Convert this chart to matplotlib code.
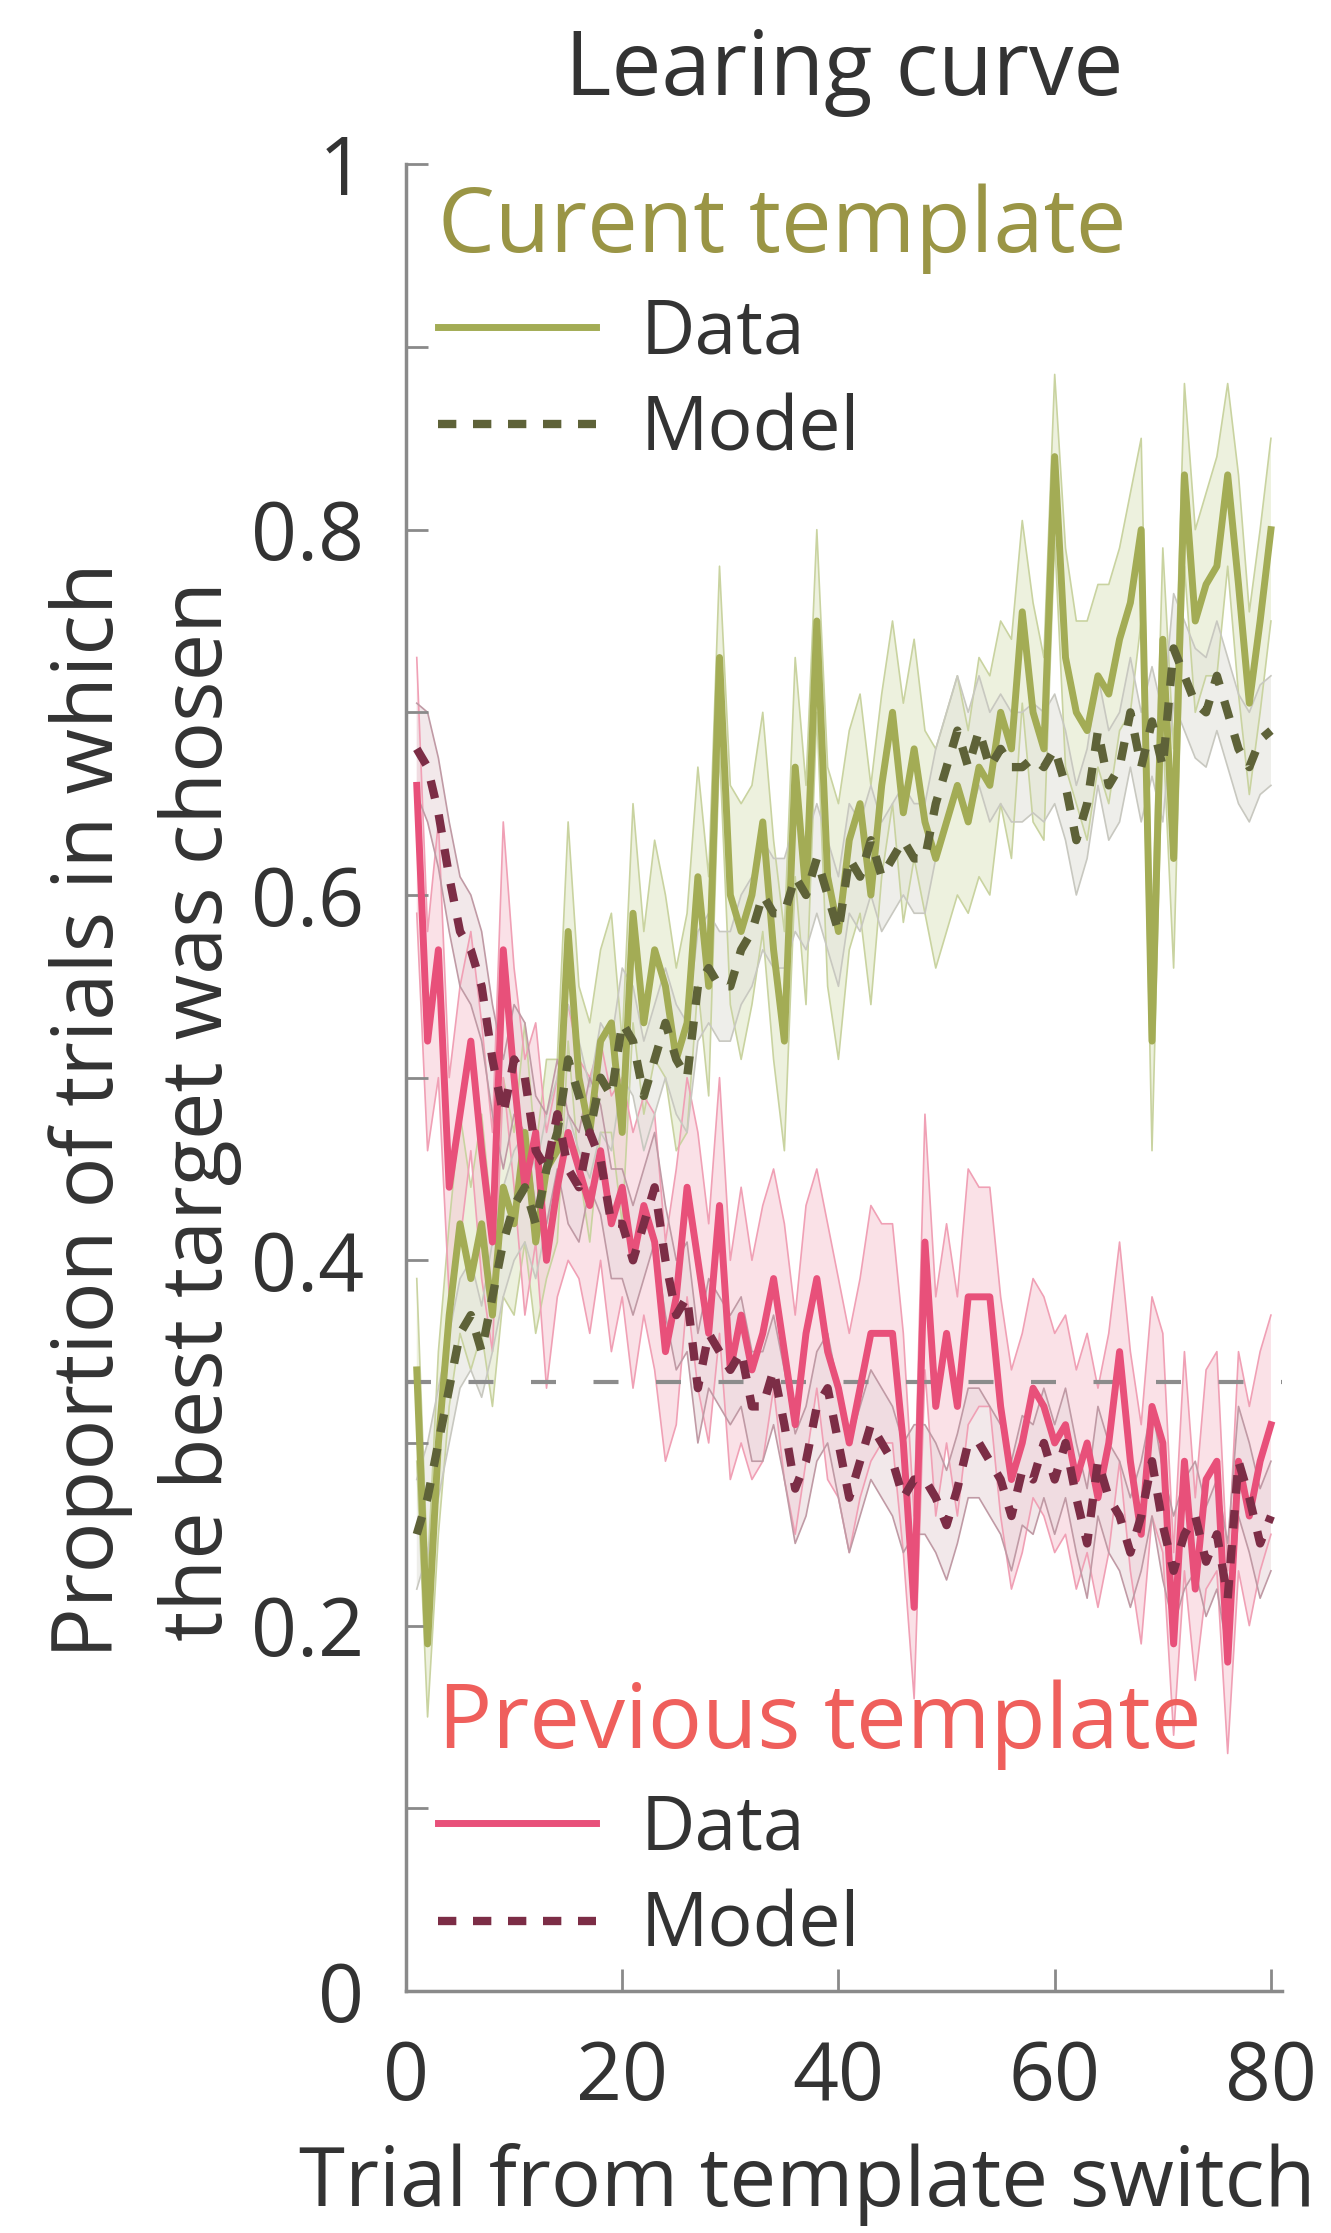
import matplotlib
matplotlib.use("Agg")
import matplotlib.pyplot as plt
from matplotlib.lines import Line2D
import numpy as np

plt.rcParams['font.family'] = ['Open Sans', 'DejaVu Sans']

trials = list(range(1, 81))

cur_data = [0.34, 0.19, 0.30, 0.37, 0.42, 0.39, 0.42, 0.37, 0.44, 0.42,
            0.47, 0.41, 0.45, 0.46, 0.58, 0.50, 0.47, 0.52, 0.53, 0.47,
            0.59, 0.53, 0.57, 0.55, 0.51, 0.53, 0.61, 0.55, 0.73, 0.60,
            0.58, 0.60, 0.64, 0.57, 0.52, 0.67, 0.60, 0.75, 0.61, 0.58,
            0.63, 0.65, 0.60, 0.66, 0.70, 0.645, 0.68, 0.64, 0.62, 0.64,
            0.66, 0.64, 0.67, 0.66, 0.70, 0.68, 0.755, 0.70, 0.68, 0.84,
            0.73, 0.70, 0.69, 0.72, 0.71, 0.74, 0.76, 0.80, 0.52, 0.74,
            0.62, 0.83, 0.75, 0.77, 0.78, 0.83, 0.77, 0.705, 0.75, 0.80]
cur_data_sem = [0.05, 0.04, 0.05, 0.05, 0.06, 0.05, 0.06, 0.05, 0.06, 0.05,
                0.06, 0.05, 0.06, 0.05, 0.06, 0.05, 0.06, 0.05, 0.06, 0.05,
                0.06, 0.05, 0.06, 0.05, 0.05, 0.06, 0.06, 0.06, 0.05, 0.06,
                0.07, 0.06, 0.06, 0.06, 0.06, 0.06, 0.06, 0.05, 0.06, 0.07,
                0.06, 0.06, 0.06, 0.05, 0.05, 0.06, 0.06, 0.05, 0.06, 0.06,
                0.06, 0.05, 0.06, 0.06, 0.05, 0.06, 0.05, 0.06, 0.05, 0.045,
                0.06, 0.05, 0.06, 0.05, 0.06, 0.05, 0.06, 0.05, 0.06, 0.05,
                0.06, 0.05, 0.05, 0.05, 0.06, 0.05, 0.06, 0.05, 0.05, 0.05]

cur_model = [0.25, 0.27, 0.30, 0.33, 0.36, 0.37, 0.35, 0.38, 0.41, 0.43,
             0.44, 0.42, 0.45, 0.47, 0.51, 0.49, 0.47, 0.50, 0.49, 0.53,
             0.52, 0.49, 0.51, 0.53, 0.51, 0.50, 0.55, 0.56, 0.55, 0.55,
             0.57, 0.58, 0.60, 0.59, 0.59, 0.61, 0.60, 0.62, 0.60, 0.58,
             0.62, 0.61, 0.63, 0.61, 0.62, 0.63, 0.62, 0.62, 0.65, 0.67,
             0.69, 0.67, 0.69, 0.67, 0.68, 0.67, 0.67, 0.675, 0.67, 0.68,
             0.66, 0.63, 0.65, 0.69, 0.66, 0.67, 0.70, 0.67, 0.695, 0.67,
             0.735, 0.72, 0.705, 0.70, 0.72, 0.70, 0.68, 0.67, 0.685, 0.69]
cur_model_sem = [0.03, 0.03, 0.03, 0.03, 0.03, 0.03, 0.025, 0.03, 0.03, 0.03,
                 0.03, 0.03, 0.03, 0.03, 0.03, 0.03, 0.025, 0.03, 0.03, 0.03,
                 0.03, 0.03, 0.03, 0.03, 0.03, 0.03, 0.03, 0.03, 0.03, 0.03,
                 0.03, 0.03, 0.03, 0.03, 0.03, 0.03, 0.03, 0.03, 0.03, 0.03,
                 0.03, 0.03, 0.03, 0.03, 0.03, 0.03, 0.03, 0.03, 0.03, 0.03,
                 0.03, 0.03, 0.03, 0.03, 0.03, 0.03, 0.03, 0.03, 0.03, 0.03,
                 0.03, 0.03, 0.03, 0.03, 0.03, 0.03, 0.03, 0.03, 0.03, 0.03,
                 0.03, 0.03, 0.03, 0.03, 0.03, 0.03, 0.03, 0.03, 0.03, 0.03]

prev_data = [0.66, 0.52, 0.57, 0.44, 0.48, 0.52, 0.46, 0.41, 0.57, 0.50,
             0.44, 0.47, 0.40, 0.44, 0.47, 0.45, 0.43, 0.46, 0.42, 0.44,
             0.40, 0.43, 0.41, 0.35, 0.38, 0.44, 0.40, 0.36, 0.43, 0.34,
             0.37, 0.34, 0.36, 0.39, 0.35, 0.31, 0.36, 0.39, 0.35, 0.33,
             0.30, 0.33, 0.36, 0.36, 0.36, 0.30, 0.21, 0.41, 0.32, 0.36,
             0.32, 0.38, 0.38, 0.38, 0.32, 0.28, 0.30, 0.33, 0.32, 0.30,
             0.31, 0.28, 0.30, 0.27, 0.30, 0.35, 0.29, 0.25, 0.32, 0.30,
             0.19, 0.29, 0.22, 0.28, 0.29, 0.18, 0.29, 0.26, 0.29, 0.31]
prev_data_sem = [0.07, 0.06, 0.07, 0.06, 0.07, 0.06, 0.07, 0.06, 0.07, 0.06,
                 0.07, 0.06, 0.07, 0.06, 0.07, 0.06, 0.07, 0.06, 0.07, 0.06,
                 0.07, 0.06, 0.07, 0.06, 0.07, 0.06, 0.07, 0.06, 0.07, 0.06,
                 0.07, 0.06, 0.07, 0.06, 0.07, 0.06, 0.07, 0.06, 0.07, 0.06,
                 0.06, 0.06, 0.07, 0.06, 0.06, 0.06, 0.05, 0.07, 0.06, 0.06,
                 0.06, 0.07, 0.06, 0.06, 0.06, 0.06, 0.06, 0.06, 0.06, 0.06,
                 0.06, 0.06, 0.06, 0.06, 0.06, 0.06, 0.06, 0.06, 0.06, 0.06,
                 0.05, 0.06, 0.05, 0.06, 0.06, 0.05, 0.06, 0.06, 0.06, 0.06]

prev_model = [0.68, 0.67, 0.645, 0.61, 0.58, 0.57, 0.55, 0.51, 0.48, 0.51,
              0.50, 0.46, 0.45, 0.48, 0.45, 0.44, 0.47, 0.455, 0.42, 0.42,
              0.40, 0.42, 0.44, 0.40, 0.37, 0.38, 0.33, 0.36, 0.35, 0.34,
              0.35, 0.32, 0.32, 0.34, 0.31, 0.275, 0.29, 0.32, 0.33, 0.30,
              0.27, 0.29, 0.31, 0.30, 0.29, 0.27, 0.28, 0.28, 0.27, 0.255,
              0.275, 0.30, 0.30, 0.29, 0.28, 0.26, 0.285, 0.28, 0.30, 0.28,
              0.30, 0.27, 0.245, 0.29, 0.27, 0.26, 0.24, 0.26, 0.29, 0.255,
              0.23, 0.25, 0.26, 0.235, 0.25, 0.215, 0.29, 0.27, 0.245, 0.26]
prev_model_sem = [0.025, 0.03, 0.03, 0.03, 0.03, 0.03, 0.03, 0.03, 0.03, 0.03,
                  0.03, 0.03, 0.03, 0.03, 0.03, 0.03, 0.03, 0.03, 0.03, 0.03,
                  0.03, 0.03, 0.03, 0.03, 0.03, 0.03, 0.03, 0.03, 0.03, 0.03,
                  0.03, 0.03, 0.03, 0.03, 0.03, 0.03, 0.03, 0.03, 0.03, 0.03,
                  0.03, 0.03, 0.03, 0.03, 0.03, 0.03, 0.03, 0.03, 0.03, 0.03,
                  0.03, 0.03, 0.03, 0.03, 0.03, 0.03, 0.03, 0.03, 0.03, 0.03,
                  0.03, 0.03, 0.03, 0.03, 0.03, 0.03, 0.03, 0.03, 0.03, 0.03,
                  0.03, 0.03, 0.03, 0.03, 0.03, 0.03, 0.03, 0.03, 0.03, 0.03]

chance = 1 / 3
xticks = [0, 20, 40, 60, 80]
yticks_major = [0, 0.2, 0.4, 0.6, 0.8, 1]
ytick_labels = ['0', '0.2', '0.4', '0.6', '0.8', '1']

# colours
C_GREEN = '#a3ac55'
C_GREEN_FILL = '#dfe6c4'
C_GREEN_EDGE = '#c9d3a0'
C_GREEN_MODEL = '#5e6238'
C_GMODEL_FILL = '#e4e4dc'
C_GMODEL_EDGE = '#c8c8c0'
C_RED = '#e8507a'
C_RED_FILL = '#f6c9d5'
C_RED_EDGE = '#f0a0b5'
C_RED_MODEL = '#7c2d46'
C_RMODEL_FILL = '#eadadd'
C_RMODEL_EDGE = '#c09aa5'
C_TXT = '#333333'
C_AX = '#8a8a8a'
MODEL_DASH = (2.2, 2.0)

fig = plt.figure(figsize=(13.31, 22.33), dpi=100)
ax = fig.add_axes([0.305, 0.1084, 0.658, 0.818])

x = np.array(trials)


def band(mean, sem, fill, edge, alpha):
    m = np.array(mean)
    s = np.array(sem)
    ax.fill_between(x, m - s, m + s, facecolor=fill, edgecolor='none', alpha=alpha, zorder=1)
    ax.plot(x, m - s, color=edge, lw=1.2, zorder=1.5)
    ax.plot(x, m + s, color=edge, lw=1.2, zorder=1.5)


band(cur_data, cur_data_sem, C_GREEN_FILL, C_GREEN_EDGE, 0.55)
band(prev_data, prev_data_sem, C_RED_FILL, C_RED_EDGE, 0.55)
band(cur_model, cur_model_sem, C_GMODEL_FILL, C_GMODEL_EDGE, 0.6)
band(prev_model, prev_model_sem, C_RMODEL_FILL, C_RMODEL_EDGE, 0.6)

ax.axhline(chance, color='#8c8c8c', lw=3, dashes=(6, 9), zorder=2)

ax.plot(x, cur_data, color=C_GREEN, lw=5, zorder=3)
ax.plot(x, prev_data, color=C_RED, lw=5, zorder=3)
ax.plot(x, cur_model, color=C_GREEN_MODEL, lw=6, dashes=MODEL_DASH, zorder=4)
ax.plot(x, prev_model, color=C_RED_MODEL, lw=6, dashes=MODEL_DASH, zorder=4)

ax.set_xlim(0, 81)
ax.set_ylim(0, 1)
ax.set_xticks(xticks)
ax.set_xticklabels([str(t) for t in xticks])
ax.set_yticks(yticks_major)
ax.set_yticklabels(ytick_labels)
ax.set_yticks(np.arange(0.1, 1.0, 0.2), minor=True)
ax.tick_params(axis='both', which='both', direction='in', color=C_AX, width=2,
               labelsize=58, labelcolor=C_TXT)
ax.tick_params(axis='y', which='major', length=16, pad=30)
ax.tick_params(axis='y', which='minor', length=16)
ax.tick_params(axis='x', which='major', length=16, pad=34)
for side in ['top', 'right']:
    ax.spines[side].set_visible(False)
for side in ['left', 'bottom']:
    ax.spines[side].set_color(C_AX)
    ax.spines[side].set_linewidth(2.5)

ax.set_title('Learing curve', fontsize=64, color=C_TXT, pad=50)
ax.set_xlabel('Trial from template switch', fontsize=60, color=C_TXT)
ax.xaxis.set_label_coords(0.458, -0.083)
ax.set_ylabel('Proportion of trials in which\nthe best target was chosen',
              fontsize=61, color=C_TXT, linespacing=1.4)
ax.yaxis.set_label_coords(-0.187, 0.482)

h_cur = [Line2D([], [], color=C_GREEN, lw=5),
         Line2D([], [], color=C_GREEN_MODEL, lw=6, dashes=MODEL_DASH)]
h_prev = [Line2D([], [], color=C_RED, lw=5),
          Line2D([], [], color=C_RED_MODEL, lw=6, dashes=MODEL_DASH)]

leg_kw = dict(frameon=False, fontsize=54, title_fontsize=65, alignment='left',
              handlelength=2.1, handletextpad=0.6, labelspacing=0.3,
              borderaxespad=0.0, borderpad=0.2)
leg1 = ax.legend(h_cur, ['Data', 'Model'], title='Curent template', loc='upper left',
                 bbox_to_anchor=(0.02, 0.998), **leg_kw)
leg1.get_title().set_color('#9a9545')
for t in leg1.get_texts():
    t.set_color(C_TXT)
ax.add_artist(leg1)

leg2 = ax.legend(h_prev, ['Data', 'Model'], title='Previous template', loc='lower left',
                 bbox_to_anchor=(0.02, 0.006), **leg_kw)
leg2.get_title().set_color('#ef5f5c')
for t in leg2.get_texts():
    t.set_color(C_TXT)

fig.savefig('out.png', dpi=100, facecolor='white')
